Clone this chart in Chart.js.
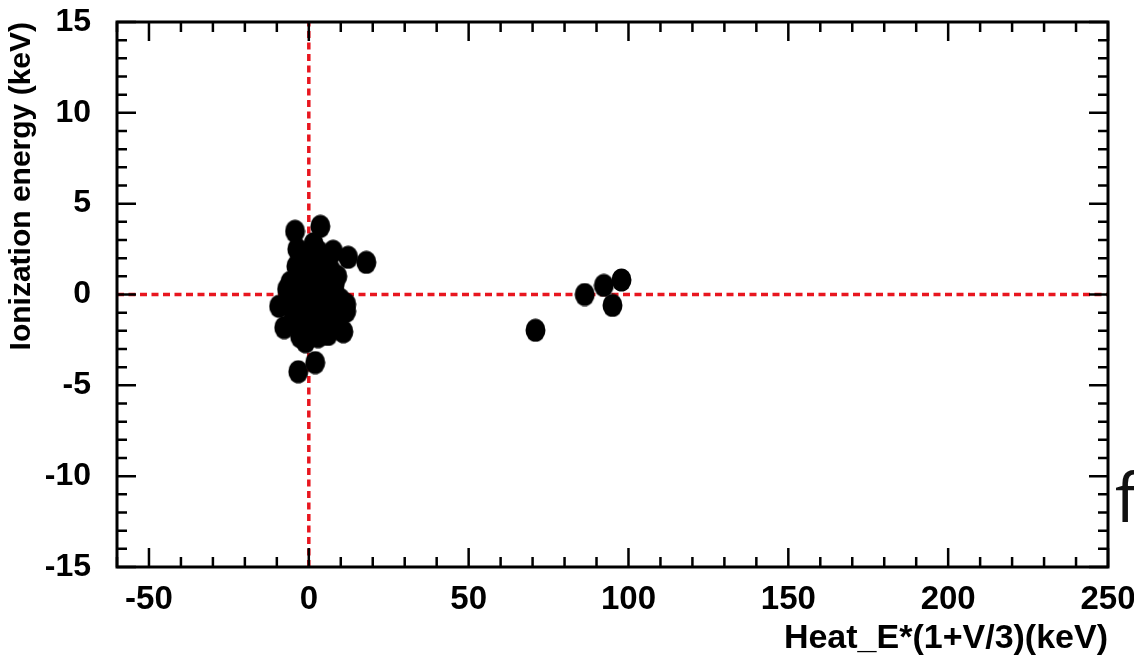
<!DOCTYPE html>
<html>
<head>
<meta charset="utf-8">
<script src="https://cdn.jsdelivr.net/npm/chart.js@4/dist/chart.umd.min.js"></script>
<style>
  html, body { margin: 0; padding: 0; background: #fff; }
  #wrap { width: 1134px; height: 668px; position: relative; }
</style>
</head>
<body>
<div id="wrap"><canvas id="scatter"></canvas></div>
<script>
// events: heat energy scaled by (1+V/3) vs ionization energy, keV
const heatE = [
  -4.3, 3.6, -3.6, -0.8, 2.9, 7.6, 12.3, 18.0, -3.9, 6.7,
  8.9, -5.8, -6.8, 9.8, 11.7, -9.3, 11.7, -4.9, -7.7, -2.7,
  2.9, 10.8, 2.0, -3.3, 0.4, 3.6, -1.1, 2.9, 6.1, -2.7,
  1.1, 5.1, -3.3, 0.4, 5.1, 7.6, -0.2, -2.7, 2.0, -0.8,
  4.2, 7.6, -4.9, 5.4, -1.8, 0.5, 3.0, -1.0, 6.0, 1.5,
  -2.0, 4.0, 8.0, -5.0, -1.0, 6.0, 9.0, 2.5, -0.5, 4.5,
  70.9, 86.3, 92.3, 95.0, 97.8
];
const ionE = [
  3.48, 3.75, 2.49, 2.05, 2.38, 2.38, 2.05, 1.77, 1.55, 1.39,
  1.0, 0.67, 0.29, -0.26, -0.54, -0.65, -0.92, -1.37, -1.82, -2.32,
  -2.32, -2.05, -3.75, -4.25, 1.94, 1.83, 1.11, 0.84, 0.4, 0.29,
  -0.15, -0.54, -0.7, -1.26, -1.48, -1.26, -1.92, -1.48, 0.29, 0.56,
  -0.04, -0.04, -0.15, 1.83, 1.66, 1.0, -1.0, -1.0, 2.0, 2.8,
  2.2, 1.0, 0.5, -0.7, -2.6, -2.2, -1.7, -0.5, 0.0, 0.6,
  -1.97, 0.0, 0.5, -0.6, 0.8
];
const xTickValues = [-50, 0, 50, 100, 150, 200, 250];
const yTickValues = [-15, -10, -5, 0, 5, 10, 15];
const xRange = [-60, 250];
const yRange = [-15, 15];

const points = heatE.map((x, i) => ({ x: x, y: ionE[i] }));

// filled ellipse marker, a bit taller than wide
const marker = document.createElement('canvas');
marker.width = 21;
marker.height = 24;
(function () {
  const c = marker.getContext('2d');
  c.fillStyle = '#000';
  c.beginPath();
  c.ellipse(10.5, 12, 10, 11.5, 0, 0, Math.PI * 2);
  c.fill();
})();

const red = '#e8161f';
const boldFont = { family: '"Liberation Sans", Arial, sans-serif', weight: 'bold' };

// frame with inward ticks on all four sides, plus the panel letter
const framePlugin = {
  id: 'frame',
  afterDatasetsDraw(chart) {
    const ctx = chart.ctx;
    const a = chart.chartArea;
    const xs = chart.scales.x;
    const ys = chart.scales.y;
    ctx.save();
    ctx.strokeStyle = '#000';
    ctx.lineWidth = 2.5;
    ctx.beginPath();
    for (let v = xRange[0]; v <= xRange[1]; v += 10) {
      const px = xs.getPixelForValue(v);
      const len = v % 50 === 0 ? 19 : 10;
      ctx.moveTo(px, a.bottom); ctx.lineTo(px, a.bottom - len);
      ctx.moveTo(px, a.top); ctx.lineTo(px, a.top + len);
    }
    for (let v = yRange[0]; v <= yRange[1]; v += 1) {
      const py = ys.getPixelForValue(v);
      const len = v % 5 === 0 ? 19 : 10;
      ctx.moveTo(a.left, py); ctx.lineTo(a.left + len, py);
      ctx.moveTo(a.right, py); ctx.lineTo(a.right - len, py);
    }
    ctx.stroke();
    ctx.lineWidth = 3;
    ctx.strokeRect(a.left, a.top, a.right - a.left, a.bottom - a.top);

    ctx.fillStyle = '#111';
    ctx.font = '400 68px "Open Sans", sans-serif';
    ctx.textBaseline = 'alphabetic';
    ctx.textAlign = 'left';
    ctx.fillText('f', 1115, 522);
    ctx.restore();
  }
};

new Chart(document.getElementById('scatter'), {
  type: 'scatter',
  data: {
    datasets: [
      {
        data: points,
        pointStyle: marker,
        order: 0
      },
      {
        type: 'line',
        data: [{ x: 0, y: yRange[0] }, { x: 0, y: yRange[1] }],
        borderColor: red,
        borderWidth: 3.5,
        borderDash: [7, 4.5],
        pointRadius: 0,
        order: 1
      },
      {
        type: 'line',
        data: [{ x: xRange[0], y: 0 }, { x: xRange[1], y: 0 }],
        borderColor: red,
        borderWidth: 3.5,
        borderDash: [7, 4.5],
        pointRadius: 0,
        order: 1
      }
    ]
  },
  options: {
    responsive: true,
    maintainAspectRatio: false,
    devicePixelRatio: 1,
    animation: false,
    layout: { padding: { top: 22, right: 26, left: 0, bottom: 0 } },
    plugins: {
      legend: { display: false },
      tooltip: { enabled: false }
    },
    scales: {
      x: {
        type: 'linear',
        min: xRange[0],
        max: xRange[1],
        grid: { display: false, drawTicks: false },
        border: { display: false },
        afterBuildTicks: s => { s.ticks = xTickValues.map(v => ({ value: v })); },
        afterFit: s => { s.height = 101; s.paddingLeft = 0; s.paddingRight = 0; },
        ticks: {
          color: '#000',
          padding: 13,
          maxRotation: 0,
          font: Object.assign({ size: 33 }, boldFont)
        },
        title: {
          display: true,
          text: 'Heat_E*(1+V/3)(keV)',
          align: 'end',
          color: '#000',
          padding: { top: 0, bottom: 9 },
          font: Object.assign({ size: 34 }, boldFont)
        }
      },
      y: {
        type: 'linear',
        min: yRange[0],
        max: yRange[1],
        grid: { display: false, drawTicks: false },
        border: { display: false },
        afterBuildTicks: s => { s.ticks = yTickValues.map(v => ({ value: v })); },
        afterFit: s => { s.width = 117; s.paddingTop = 0; s.paddingBottom = 0; },
        ticks: {
          color: '#000',
          padding: 26,
          font: Object.assign({ size: 32 }, boldFont)
        },
        title: {
          display: true,
          text: 'Ionization energy (keV)',
          align: 'end',
          color: '#000',
          padding: { top: 4, bottom: 0 },
          font: Object.assign({ size: 30 }, boldFont)
        }
      }
    }
  },
  plugins: [framePlugin]
});
</script>
</body>
</html>
